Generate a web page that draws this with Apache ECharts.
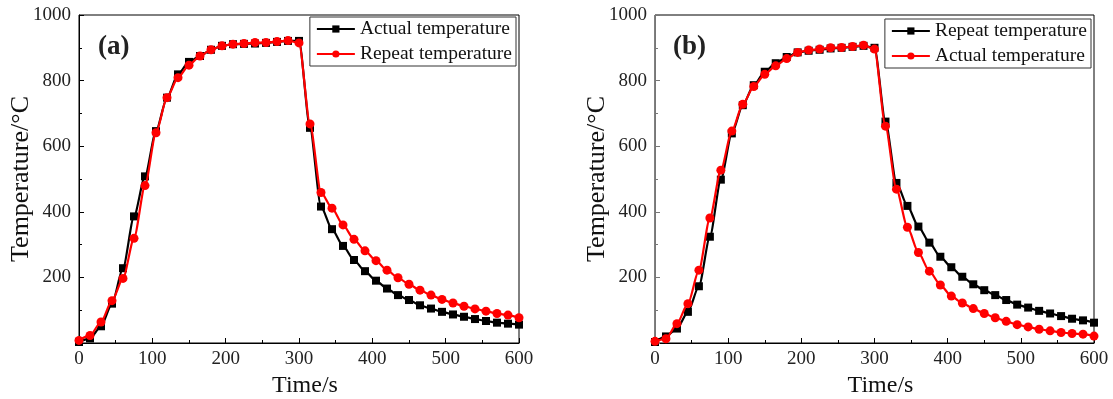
<!DOCTYPE html>
<html>
<head>
<meta charset="utf-8">
<script src="https://cdn.jsdelivr.net/npm/echarts@6/dist/echarts.min.js"></script>
<style>
html,body{margin:0;padding:0;background:#fff;}
#a{position:absolute;left:0;top:0;width:556px;height:399px;}
#b{position:absolute;left:556px;top:0;width:557px;height:399px;}
</style>
</head>
<body>
<div id="a"></div>
<div id="b"></div>
<script>
// Time (s), one point every 15 s
const times = [0,15,30,45,60,75,90,105,120,135,150,165,180,195,210,225,240,255,270,285,300,
  315,330,345,360,375,390,405,420,435,450,465,480,495,510,525,540,555,570,585,600];
const xTicks = [0,100,200,300,400,500,600];
const yTicks = [200,400,600,800,1000];

// Panel (a)
const aActual = [3,14,51,120,228,386,508,646,748,819,857,875,894,906,911,912,913,915,918,921,921,
  656,416,347,296,253,219,190,166,146,131,115,105,95,87,80,73,67,62,59,56];
const aRepeat = [8,23,64,129,197,319,480,641,748,809,847,875,894,906,911,913,916,916,919,922,915,
  668,459,411,360,316,281,251,222,199,179,161,146,133,122,112,104,97,90,85,77];

// Panel (b)
const bRepeat = [3,20,44,95,173,324,498,639,725,786,827,853,872,886,891,894,898,900,903,906,900,
  675,488,418,355,306,263,231,202,179,161,146,131,117,108,98,90,82,74,69,62];
const bActual = [5,13,59,120,222,381,527,646,728,782,819,845,867,886,893,896,900,901,904,908,896,
  661,469,353,276,219,177,143,122,105,90,77,66,56,49,42,37,32,29,27,21];

const FONT = '"Liberation Serif","Times New Roman",serif';
const BLACK = '#000000', RED = '#ff0000';

function pairs(vals){ return times.map((t,i)=>[t, vals[i]]); }

function makeOption(cfg){
  const mkSeries = (name, vals, color, symbol, size) => ({
    name, type:'line', data: pairs(vals), smooth:0.25, smoothMonotone:'x',
    symbol, symbolSize:size, showSymbol:true,
    lineStyle:{color, width:2.2}, itemStyle:{color},
    emphasis:{disabled:true}, animation:false, z: color===RED?3:2
  });
  return {
    animation:false,
    grid:{left:cfg.left, right:cfg.right, top:15, bottom:56, show:true,
      outerBoundsMode:'none', containLabel:false,
      borderColor:'#000', borderWidth:1, backgroundColor:'transparent'},
    xAxis:{type:'value', min:0, max:600, interval:100,
      name:'Time/s', nameLocation:'middle', nameGap:31, nameMoveOverlap:false,
      nameTextStyle:{fontFamily:FONT, fontSize:24, color:'#111', padding:[0,0,0,12]},
      axisLine:{lineStyle:{color:'#000', width:1}},
      axisTick:{inside:true, length:5, lineStyle:{color:'#000'}},
      minorTick:{show:true, splitNumber:2, length:3, lineStyle:{color:'#000'}},
      splitLine:{show:false},
      axisLabel:{fontFamily:FONT, fontSize:19, color:'#222', margin:7,
        formatter:v=> xTicks.includes(v) ? String(v) : ''}},
    yAxis:{type:'value', min:0, max:1000, interval:200,
      name:'Temperature/\u00B0C', nameLocation:'middle', nameGap:45, nameMoveOverlap:false,
      nameTextStyle:{fontFamily:FONT, fontSize:26, color:'#111'},
      axisLine:{show:true, lineStyle:{color:cfg.yAxisColor, width:1}},
      axisTick:{show:true, inside:true, length:5, lineStyle:{color:cfg.yAxisColor}},
      minorTick:{show:true, splitNumber:2, length:3, lineStyle:{color:cfg.yAxisColor}},
      splitLine:{show:false},
      axisLabel:{fontFamily:FONT, fontSize:19, color:'#222', margin:8,
        formatter:v=> yTicks.includes(v) ? String(v) : ''}},
    legend:{orient:'vertical', right:cfg.legendRight, top:cfg.legendTop,
      borderColor:'#333', borderWidth:1, backgroundColor:'#fff',
      padding:[1,4,1,6], itemGap:3, itemWidth:38, itemHeight:9,
      textStyle:{fontFamily:FONT, fontSize:19.5, color:'#111', lineHeight:22},
      data:cfg.series.map(s=>s[0])},
    graphic:[{type:'text', left:cfg.labelLeft, top:34,
      style:{text:cfg.label, font:'bold 27px '+FONT, fill:'#222'}}],
    series: cfg.series.map(s=>mkSeries(s[0], s[1], s[2], s[3], s[4]))
  };
}

const chartA = echarts.init(document.getElementById('a'), null, {renderer:'canvas'});
chartA.setOption(makeOption({left:79, right:37, legendRight:40, legendTop:17, labelLeft:98,
  label:'(a)', yAxisColor:'#000',
  series:[['Actual temperature', aActual, BLACK, 'rect', 8],
          ['Repeat temperature', aRepeat, RED, 'circle', 9]]}));

const chartB = echarts.init(document.getElementById('b'), null, {renderer:'canvas'});
chartB.setOption(makeOption({left:99, right:19, legendRight:22, legendTop:19, labelLeft:117,
  label:'(b)', yAxisColor:'#777',
  series:[['Repeat temperature', bRepeat, BLACK, 'rect', 8],
          ['Actual temperature', bActual, RED, 'circle', 9]]}));
</script>
</body>
</html>
